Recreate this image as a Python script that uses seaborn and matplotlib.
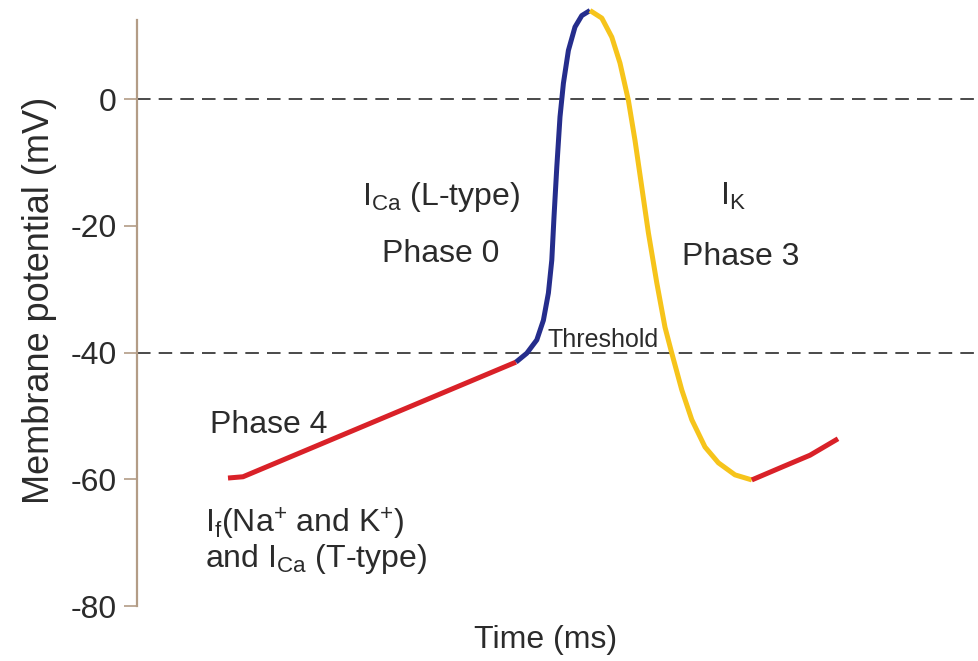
import matplotlib
matplotlib.use("Agg")
import matplotlib.pyplot as plt
import seaborn as sns

# action potential of a pacemaker cell (t in ms, V in mV)
phase4_t = [45.5, 53.0, 189.5]
phase4_v = [-59.8, -59.6, -41.5]

phase0_t = [189.5, 194.9, 199.9, 203.2, 205.7, 207.4, 208.5, 209.9, 211.5, 213.2, 215.7, 219.0, 222.4, 226.5]
phase0_v = [-41.5, -40.1, -38.0, -34.9, -30.6, -25.4, -18.6, -10.7, -2.8, 2.5, 7.7, 11.4, 13.2, 14.0]

phase3_t = [226.5, 232.4, 237.4, 241.5, 245.7, 249.0, 252.4, 255.7, 259.9, 264.0, 267.4, 272.4, 277.4, 284.0, 290.7, 299.0, 307.4]
phase3_v = [14.0, 12.8, 9.8, 5.7, -0.2, -6.5, -13.9, -21.1, -29.0, -36.0, -40.1, -45.9, -50.6, -54.9, -57.4, -59.3, -60.1]

phase4b_t = [307.4, 323.0, 336.5, 350.5]
phase4b_v = [-60.1, -58.0, -56.2, -53.6]

ref_levels = [0, -40]
y_ticks = [0, -20, -40, -60, -80]

RED = "#d92128"
BLUE = "#252d8c"
YELLOW = "#f6c41b"
TXT = "#2b2b2b"
SPINE = "#b39c86"

sns.set_style("white")
plt.rcParams["font.family"] = ["Liberation Sans", "DejaVu Sans"]
plt.rcParams["mathtext.fontset"] = "custom"
plt.rcParams["mathtext.rm"] = "Liberation Sans"
plt.rcParams["mathtext.it"] = "Liberation Sans:italic"

fig = plt.figure(figsize=(9.79, 6.61), dpi=100)
ax = fig.add_axes([137 / 979, 55 / 661, 842 / 979, 605 / 661])

for lv in ref_levels:
    ax.axhline(lv, xmin=0, xmax=0.995, color="#3a3a3a", lw=1.3, ls=(0, (7.5, 4.5)), zorder=1)

segments = [(phase4_t, phase4_v, RED), (phase0_t, phase0_v, BLUE),
            (phase3_t, phase3_v, YELLOW), (phase4b_t, phase4b_v, RED)]
for t, v, c in segments:
    sns.lineplot(x=t, y=v, ax=ax, color=c, lw=3.6, estimator=None, sort=False,
                 solid_capstyle="butt", solid_joinstyle="round", zorder=3, clip_on=False)

ax.set_xlim(0, 421)
ax.set_ylim(-80, 15.5)
ax.set_yticks(y_ticks)
ax.set_yticklabels([str(v) for v in y_ticks])
ax.set_xticks([])
ax.tick_params(axis="y", left=True, length=9.5, width=1.2, color=SPINE, pad=5,
               labelsize=23, labelcolor=TXT)

for s in ["top", "right", "bottom"]:
    ax.spines[s].set_visible(False)
ax.spines["left"].set_color(SPINE)
ax.spines["left"].set_linewidth(1.6)
ax.spines["left"].set_bounds(-80, 12.5)

ax.set_ylabel("Membrane potential (mV)", fontsize=26, color=TXT)
ax.yaxis.set_label_coords(-0.095, 0.505)
ax.set_xlabel("Time (ms)", fontsize=23, color=TXT)
ax.xaxis.set_label_coords(0.485, -0.032)

txt = dict(fontsize=23, color=TXT, ha="center", va="center")
ax.text(152, -15.4, r"I$_{\mathrm{Ca}}$ (L-type)", **txt)
ax.text(152, -24.5, "Phase 0", **txt)
ax.text(298, -15.4, r"I$_{\mathrm{K}}$", **txt)
ax.text(302, -24.9, "Phase 3", **txt)
ax.text(65.7, -51.5, "Phase 4", **txt)
ax.text(233, -38.0, "Threshold", fontsize=18, color=TXT, ha="center", va="center")
ax.text(34, -67.0, r"I$_{\mathrm{f}}$(Na$^{+}$ and K$^{+}$)", fontsize=23, color=TXT, ha="left", va="center")
ax.text(34, -72.6, r"and I$_{\mathrm{Ca}}$ (T-type)", fontsize=23, color=TXT, ha="left", va="center")

fig.savefig("out.png", dpi=100, facecolor="white")
